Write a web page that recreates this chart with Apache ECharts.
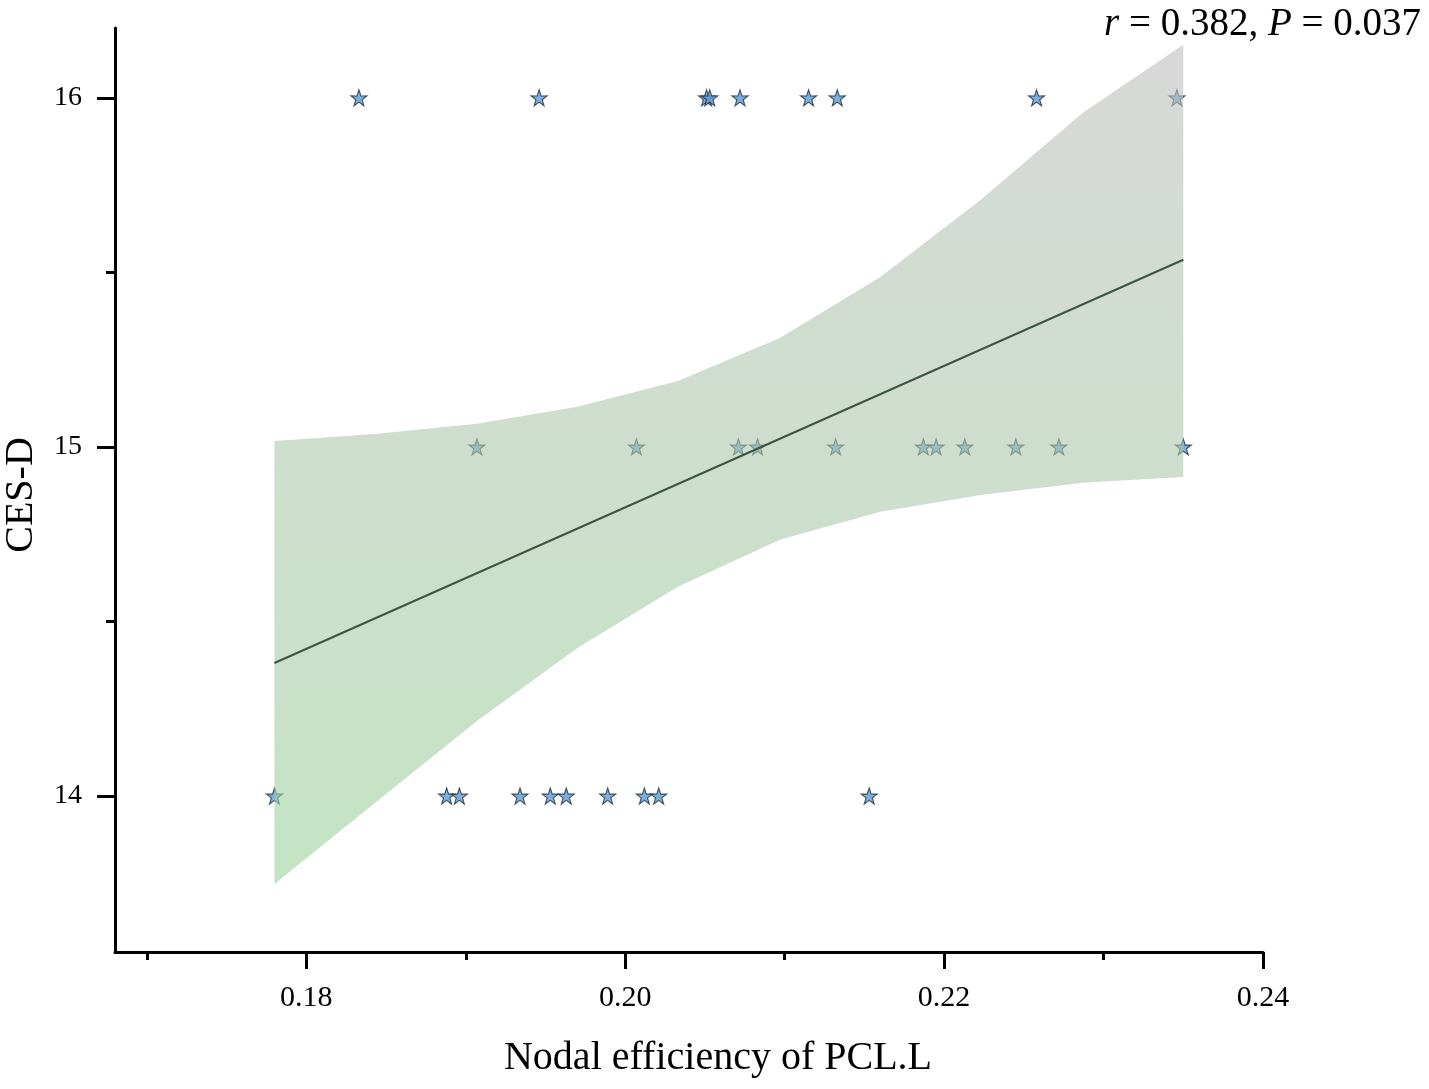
<!DOCTYPE html>
<html>
<head>
<meta charset="utf-8">
<script src="https://cdn.jsdelivr.net/npm/echarts@6/dist/echarts.min.js"></script>
<style>
html,body{margin:0;padding:0;background:#fff;}
#chart{width:1429px;height:1089px;}
</style>
</head>
<body>
<div id="chart"></div>
<script>
// ---- data ----
const nodalEff = [
  0.1833, 0.1946, 0.2051, 0.2053, 0.2072, 0.2115, 0.2133, 0.2258, 0.2346,
  0.1907, 0.2007, 0.2071, 0.2083, 0.2132, 0.2187, 0.2195, 0.2213, 0.2245, 0.2272, 0.2350,
  0.1780, 0.1888, 0.1896, 0.1934, 0.1953, 0.1963, 0.1989, 0.2012, 0.2021, 0.2153
];
const cesd = [
  16, 16, 16, 16, 16, 16, 16, 16, 16,
  15, 15, 15, 15, 15, 15, 15, 15, 15, 15, 15,
  14, 14, 14, 14, 14, 14, 14, 14, 14, 14
];
const fitX = [0.178, 0.235];
const fitY = [14.381, 15.536];
const bandX     = [0.1780, 0.1843, 0.1907, 0.1970, 0.2033, 0.2097, 0.2160, 0.2223, 0.2287, 0.2350];
const bandUpper = [15.017, 15.037, 15.066, 15.115, 15.189, 15.312, 15.487, 15.708, 15.957, 16.152];
const bandLower = [13.748, 13.980, 14.215, 14.424, 14.599, 14.734, 14.814, 14.862, 14.897, 14.914];
const xMajorTicks = [0.18, 0.20, 0.22, 0.24];
const xMinorTicks = [0.17, 0.19, 0.21, 0.23];
const yMajorTicks = [14, 15, 16];
const yMinorTicks = [14.5, 15.5];
const xRange = [0.168, 0.24];
const yRange = [13.553, 16.2];
const xTitle = 'Nodal efficiency of PCL.L';
const yTitle = 'CES-D';
const statText = '{i|r} = 0.382, {i|P} = 0.037';

// ---- chart ----
const FONT = "'Liberation Serif', 'Times New Roman', serif";
const chart = echarts.init(document.getElementById('chart'));
const points = nodalEff.map((x, i) => [x, cesd[i]]);
const starPath = 'path://M50,0 L61.8,35.1 L97.6,34.5 L68.8,56.2 L79.4,90.5 L50,69.9 L20.6,90.5 L31.2,56.2 L2.4,34.5 L38.2,35.1 Z';

const axisLineStyle = { color: '#000', width: 3 };

chart.setOption({
  animation: false,
  backgroundColor: '#fff',
  title: {
    text: statText,
    right: 8,
    top: 5,
    padding: 0,
    textStyle: {
      fontFamily: FONT, fontSize: 39, fontWeight: 'normal', color: '#000',
      rich: { i: { fontFamily: FONT, fontSize: 39, fontStyle: 'italic', color: '#000' } }
    }
  },
  grid: { left: 115, right: 166, top: 28, bottom: 137, containLabel: false, outerBoundsMode: 'none' },
  xAxis: [
    {
      type: 'value', min: xRange[0], max: xRange[1], position: 'bottom',
      splitLine: { show: false },
      axisLine: { show: true, lineStyle: axisLineStyle },
      axisTick: { show: true, customValues: xMajorTicks, length: 17, lineStyle: { color: '#000', width: 3 } },
      axisLabel: {
        show: true, customValues: xMajorTicks, margin: 31,
        formatter: v => v.toFixed(2),
        fontFamily: FONT, fontSize: 30, color: '#000'
      },
      name: xTitle, nameLocation: 'middle', nameGap: 86,
      nameTextStyle: { fontFamily: FONT, fontSize: 40, color: '#000', padding: [0, 0, 0, 58] }
    },
    {
      type: 'value', min: xRange[0], max: xRange[1], position: 'bottom', offset: 0,
      splitLine: { show: false },
      axisLine: { show: false },
      axisTick: { show: true, customValues: xMinorTicks, length: 8, lineStyle: { color: '#000', width: 3 } },
      axisLabel: { show: false }
    }
  ],
  yAxis: [
    {
      type: 'value', min: yRange[0], max: yRange[1], position: 'left',
      splitLine: { show: false },
      axisLine: { show: true, lineStyle: axisLineStyle },
      axisTick: { show: true, customValues: yMajorTicks, length: 18, lineStyle: { color: '#000', width: 3 } },
      axisLabel: {
        show: true, customValues: yMajorTicks, margin: 33,
        fontFamily: FONT, fontSize: 28, color: '#000'
      },
      name: yTitle, nameLocation: 'middle', nameGap: 74,
      nameTextStyle: { fontFamily: FONT, fontSize: 40, color: '#000', padding: [0, 10, 0, 0] }
    },
    {
      type: 'value', min: yRange[0], max: yRange[1], position: 'left', offset: 0,
      splitLine: { show: false },
      axisLine: { show: false },
      axisTick: { show: true, customValues: yMinorTicks, length: 9, lineStyle: { color: '#000', width: 3 } },
      axisLabel: { show: false }
    }
  ],
  series: [
    {
      type: 'scatter',
      z: 2,
      data: points,
      symbol: starPath,
      symbolSize: 16,
      itemStyle: { color: '#5b9bd5', borderColor: '#1f2d3c', borderWidth: 1.1 }
    },
    {
      type: 'custom',
      z: 3,
      silent: true,
      data: [0],
      renderItem: function (params, api) {
        const up = bandX.map((x, i) => api.coord([x, bandUpper[i]]));
        const lo = bandX.map((x, i) => api.coord([x, bandLower[i]])).reverse();
        return {
          type: 'polygon',
          shape: { points: up.concat(lo) },
          style: {
            fill: new echarts.graphic.LinearGradient(0, 0, 0, 1, [
              { offset: 0, color: 'rgba(190,190,190,0.6)' },
              { offset: 1, color: 'rgba(155,210,155,0.6)' }
            ]),
            stroke: null
          }
        };
      }
    },
    {
      type: 'line',
      z: 4,
      data: fitX.map((x, i) => [x, fitY[i]]),
      symbol: 'none',
      lineStyle: { color: '#3b5443', width: 2 }
    }
  ]
});
</script>
</body>
</html>
